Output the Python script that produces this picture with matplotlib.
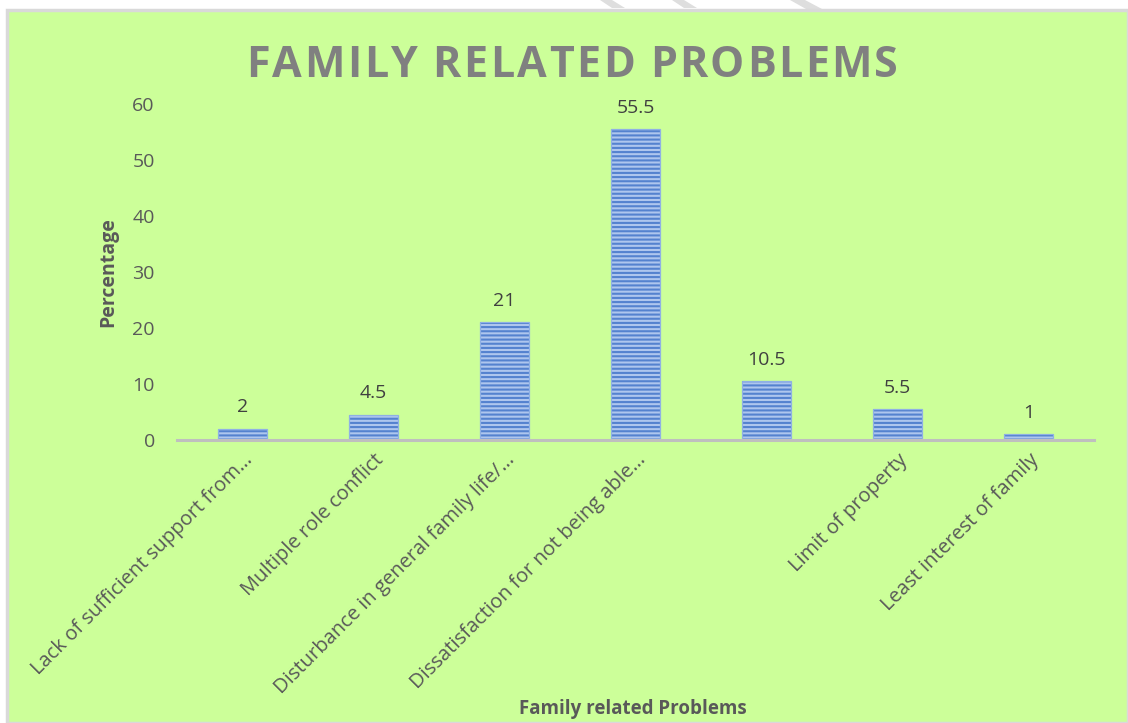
import matplotlib
matplotlib.use("Agg")
import matplotlib.pyplot as plt
from matplotlib.patches import Rectangle, Polygon

categories = ["Lack of sufficient support from\u2026", "Multiple role conflict",
              "Disturbance in general family life/\u2026", "Dissatisfaction for not being able\u2026",
              "", "Limit of property", "Least interest of family"]
values = [2, 4.5, 21, 55.5, 10.5, 5.5, 1]
value_labels = ["2", "4.5", "21", "55.5", "10.5", "5.5", "1"]
yticks = [0, 10, 20, 30, 40, 50, 60]
title = "FAMILY RELATED PROBLEMS"

W, H = 1128, 723
fig = plt.figure(figsize=(W/100, H/100), dpi=100)
fig.patch.set_facecolor("white")
bg = Rectangle((7/W, 0), 1 - 7/W, 1 - 10/H, transform=fig.transFigure,
               facecolor="#CCFF99", edgecolor="#D9D9D9", linewidth=2.5, zorder=-10)
fig.patches.append(bg)
# faint watermark strokes in the white strip above
for pts in [[(600, 0), (612, 0), (625, 8), (612, 8)],
            [(672, 0), (684, 0), (697, 8), (684, 8)],
            [(790, 0), (805, 0), (822, 9), (806, 9)]]:
    fig.patches.append(Polygon([(px/W, 1 - py/H) for px, py in pts], closed=True,
                               transform=fig.transFigure, facecolor="#DEDEDE",
                               edgecolor="none", zorder=-11))

plt.rcParams['hatch.linewidth'] = 1.5
ax = fig.add_axes([177/W, 1 - 440/H, (1094-177)/W, (440-104)/H])
ax.set_facecolor("none")
x = list(range(len(categories)))
ax.bar(x, values, width=0.38, color="#AEC6EE", edgecolor="#5482CF",
       hatch="----", linewidth=0, zorder=2)
ax.bar(x, values, width=0.38, fill=False, edgecolor="#8FB0E4", linewidth=0.9, zorder=3)

ax.set_xlim(-0.5, 6.5)
ax.set_ylim(0, 60)
ax.set_yticks(yticks)
ax.set_yticklabels([str(t) for t in yticks])
ax.set_xticks(x)
ax.set_xticklabels(categories, rotation=45, ha="right", va="top",
                   rotation_mode="anchor", fontsize=14.5, color="#595959",
                   family="Open Sans")
ax.tick_params(axis="x", length=0, pad=7)
ax.tick_params(axis="y", length=0, pad=16, labelsize=14, labelcolor="#595959")
for lab in ax.get_yticklabels():
    lab.set_family("Open Sans")
for s in ["top", "right", "left"]:
    ax.spines[s].set_visible(False)
ax.spines["bottom"].set_color("#BFBFBF")
ax.spines["bottom"].set_linewidth(2.2)
ax.spines["bottom"].set_zorder(4)

for xi, v, lab in zip(x, values, value_labels):
    ax.annotate(lab, (xi, v), xytext=(0, 9), textcoords="offset points",
                ha="center", va="bottom", fontsize=14, color="#404040",
                family="Open Sans")

fig.text(108/W, 1 - 272/H, "Percentage", rotation=90, ha="center", va="center",
         fontsize=14, fontweight="bold", color="#595959", family="Open Sans")
fig.text(633/W, 1 - 709/H, "Family related Problems", ha="center", va="center",
         fontsize=13.5, fontweight="bold", color="#595959", family="Open Sans")

# Title with letter spacing: place characters individually
renderer = fig.canvas.get_renderer()
tkw = dict(fontsize=31, fontweight="bold", color="#808080", family="Open Sans",
           va="baseline", ha="left")
tracking = 2.5  # px between letters
widths = []
for ch in title:
    if ch == " ":
        widths.append(10.0)
        continue
    t = fig.text(0, 0, ch, **tkw)
    widths.append(t.get_window_extent(renderer).width)
    t.remove()
total = sum(widths) + tracking * (len(title) - 1)
xpos = 572 - total / 2
baseline = 77
for ch, w in zip(title, widths):
    if ch != " ":
        fig.text(xpos / W, 1 - baseline / H, ch, **tkw)
    xpos += w + tracking

fig.savefig("out.png", dpi=100)
